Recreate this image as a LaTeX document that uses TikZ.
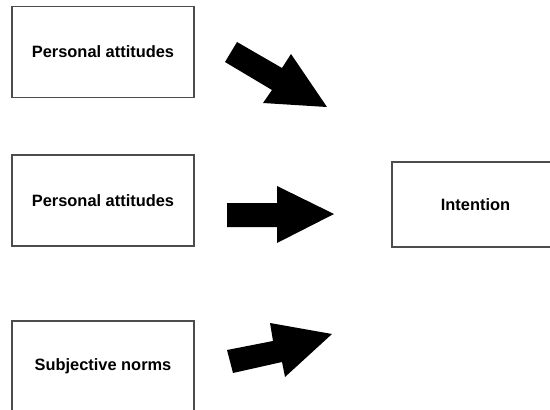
\documentclass[tikz,border=0pt]{standalone}
\usepackage{fontspec}
\setmainfont{Liberation Sans}
\begin{document}
\begin{tikzpicture}[x=1pt,y=-1pt,
  box/.style={draw=black!70,line width=1.1pt,fill=white,inner sep=0pt,
    font=\fontsize{16.4}{19}\selectfont\bfseries},
  blockarrow/.style={fill=black,draw=none}]
\useasboundingbox (0,0) rectangle (550,410);
\begin{scope}
\clip (0,0) rectangle (550,410);
\node[box,minimum width=182pt,minimum height=91pt] (pa1) at (103,52) {Personal attitudes};
\node[box,minimum width=182pt,minimum height=91pt] (pa2) at (103,200.5) {Personal attitudes};
\node[box,minimum width=182pt,minimum height=90pt] (sn) at (103,366) {Subjective norms};
\node[box,minimum width=167pt,minimum height=85pt] (int) at (475.5,204.5) {Intention};
% block arrows
\fill[blockarrow] (237,42) -- (282,68) -- (291,54) -- (327,107) -- (263,103) -- (272,90) -- (225,62) -- cycle;
\fill[blockarrow] (227,203) -- (277,203) -- (277,186) -- (334,214) -- (277,243) -- (277,227) -- (227,227) -- cycle;
\fill[blockarrow] (227,350) -- (273,341) -- (270,323) -- (332,334) -- (285,377) -- (282,362) -- (233,373) -- cycle;
\end{scope}
\end{tikzpicture}
\end{document}
